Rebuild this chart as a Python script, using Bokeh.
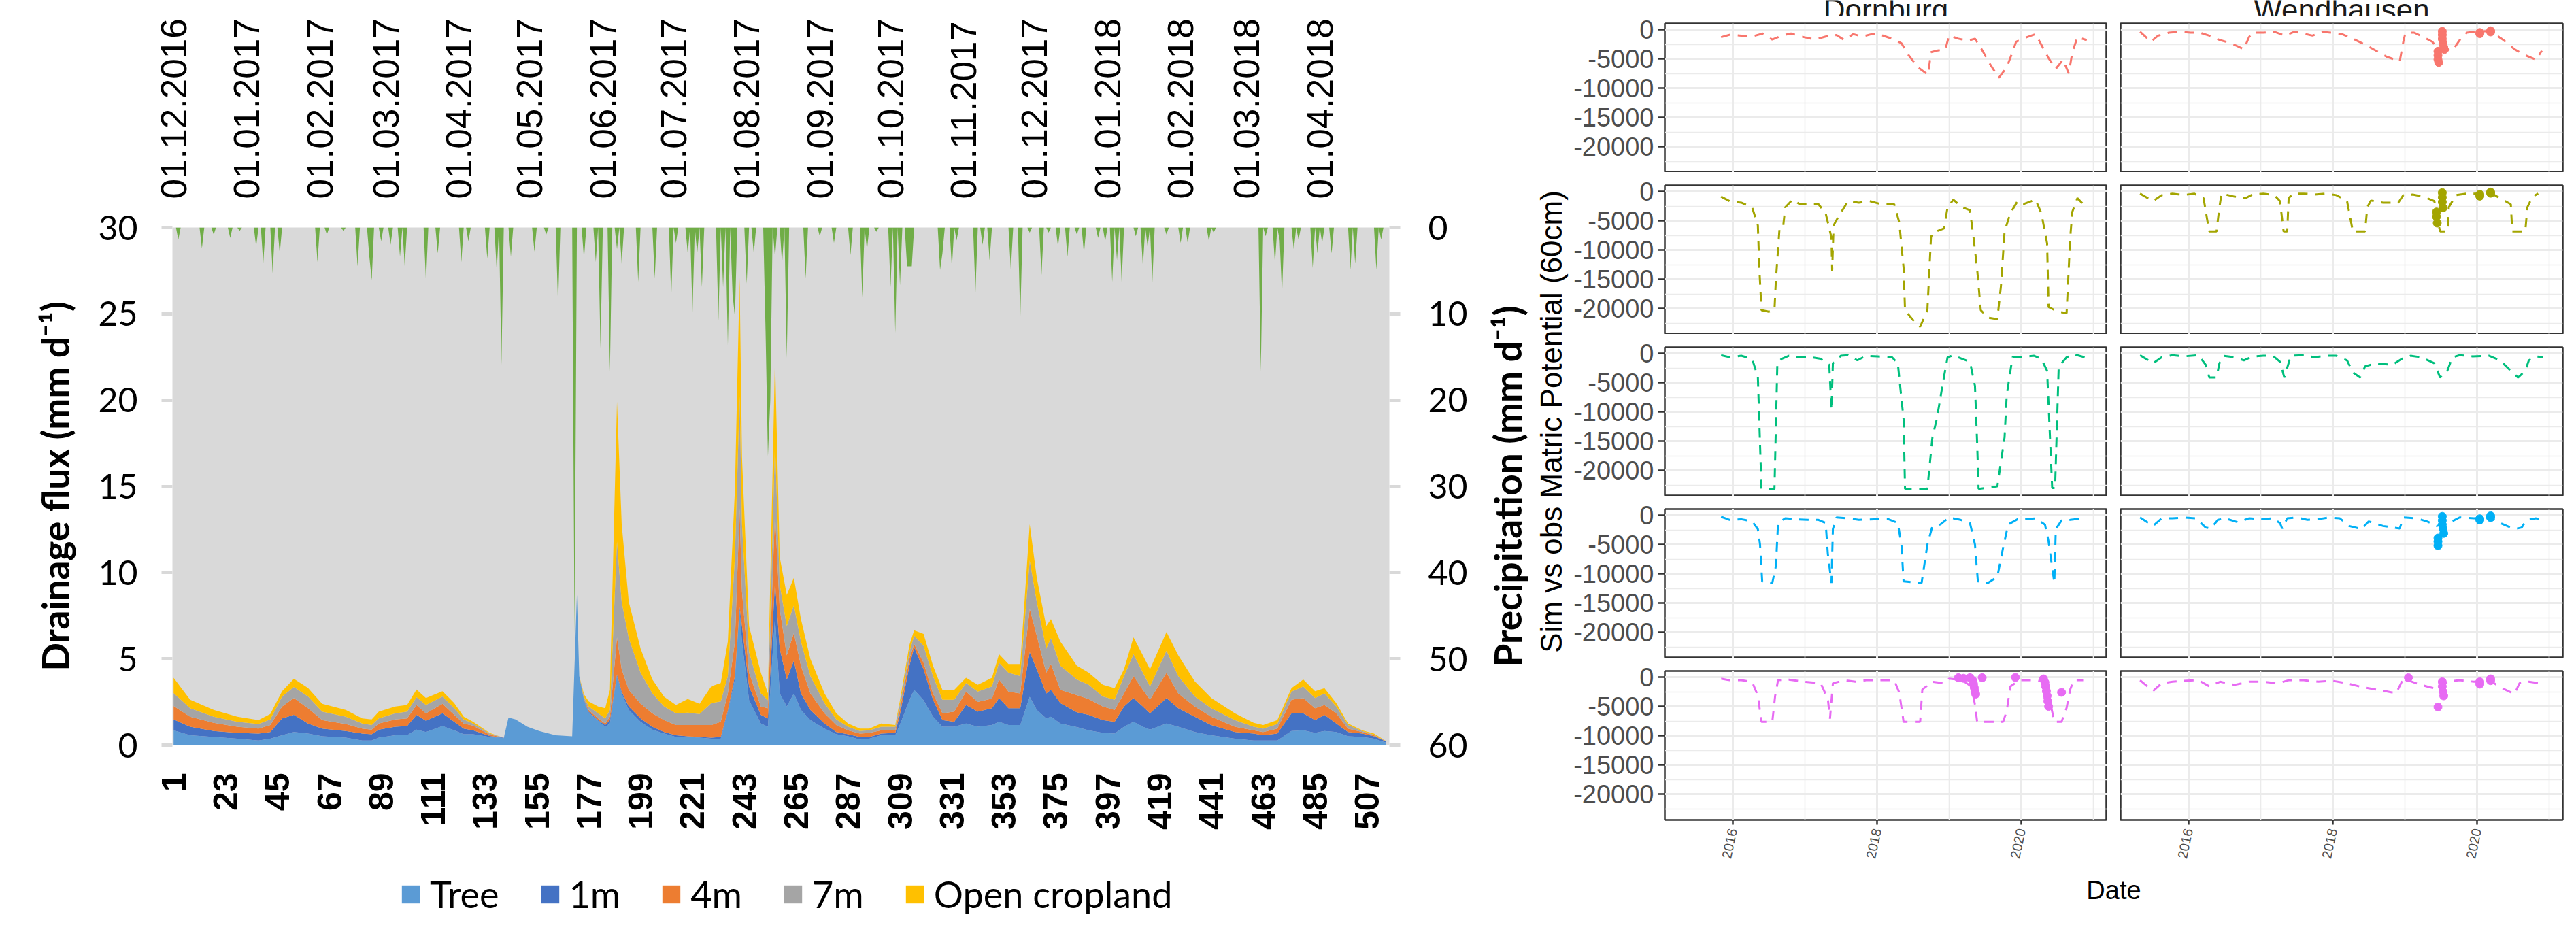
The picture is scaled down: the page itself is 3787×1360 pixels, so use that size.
import datetime as dt
import numpy as np
from bokeh.plotting import figure
from bokeh.models import (Range1d, LinearAxis, FixedTicker, Legend, LegendItem,
                          Label, ColumnDataSource)
from bokeh.layouts import row, column
from bokeh.embed import file_html
from bokeh.resources import INLINE

# ------------------------------------------------------------------
# Left chart: drainage flux (stacked areas) and precipitation (inverted)
# ------------------------------------------------------------------
N_DAYS = 516
MONTH_LABELS = ["01.12.2016", "01.01.2017", "01.02.2017", "01.03.2017", "01.04.2017",
                "01.05.2017", "01.06.2017", "01.07.2017", "01.08.2017", "01.09.2017",
                "01.10.2017", "01.11.2017", "01.12.2017", "01.01.2018", "01.02.2018",
                "01.03.2018", "01.04.2018"]
DAY_TICKS = [1, 23, 45, 67, 89, 111, 133, 155, 177, 199, 221, 243, 265, 287, 309,
             331, 353, 375, 397, 419, 441, 463, 485, 507]
SERIES_NAMES = ["Tree", "1m", "4m", "7m", "Open cropland"]
SERIES_COLORS = ["#5B9BD5", "#4472C4", "#ED7D31", "#A5A5A5", "#FFC000"]

DAYS = [1, 8, 18, 28, 37, 42, 47, 52, 58, 64,
        74, 81, 85, 88, 95, 100, 104, 108, 115, 120,
        124, 128, 135, 140, 141, 143, 146, 151, 156, 163,
        170, 172, 173, 175, 177, 181, 184, 186, 189, 191,
        194, 199, 204, 209, 214, 219, 224, 229, 233, 236,
        239, 241, 242, 245, 250, 253, 256, 258, 261, 264,
        267, 271, 277, 282, 287, 292, 296, 301, 307, 309,
        313, 315, 319, 323, 327, 332, 337, 342, 348, 351,
        355, 360, 364, 367, 371, 373, 377, 384, 389, 395,
        400, 404, 408, 412, 415, 422, 427, 434, 441, 451,
        459, 463, 469, 475, 480, 485, 489, 494, 499, 505, 510, 515]
TREE = [.86, .57, .47, .37, .27, .37, .57, .76, .67, .51,
        .43, .27, .27, .43, .57, .57, .90, .76, 1.10, .86,
        .63, .63, .47, .42, .40, 1.60, 1.49, 1.06, .82, .57,
        .51, 8.70, 4.00, 2.60, 1.88, 1.41, 1.06, 1.25, 4.00, 3.00,
        2.04, 1.35, .90, .67, .47, .47, .43, .37, .37, 1.90,
        3.80, 7.90, 6.00, 2.60, 1.25, 1.06, 7.40, 3.00, 2.24, 3.00,
        2.04, 1.45, .96, .63, .51, .33, .37, .57, .57, 1.20,
        2.60, 3.20, 2.60, 1.65, 1.06, 1.06, 1.25, 1.06, 1.16, 1.35,
        1.16, 1.16, 2.80, 2.04, 1.55, 1.65, 1.25, 1.04, .86, .71,
        .67, 1.06, 1.35, 1.06, .90, 1.25, 1.06, .76, .57, .37,
        .27, .27, .27, .82, .86, .71, .82, .76, .51, .47, .37, .15]
M1 = [.63, .49, .35, .34, .40, .39, .98, .99, .58, .45,
      .39, .40, .36, .47, .49, .53, .85, .65, .74, .49,
      .33, .23, .06, .03, .02, 0, 0, 0, 0, 0,
      0, 0, 0, .05, .06, .04, .10, .20, .10, .10,
      .20, .20, .16, .09, .10, .04, .04, .06, .10, .10,
      .20, .10, .90, .80, .50, .49, 2.10, 2.60, 1.56, 1.90,
      .96, .59, .29, .13, .12, .14, .10, .10, .14, .60,
      2.00, 2.47, 1.80, .98, .39, .29, 1.08, .88, .98, 1.38,
      .98, .98, 2.60, 2.36, 1.45, 1.55, 1.18, .86, .89, .74,
      .68, 1.18, 1.38, 1.18, .94, 1.48, 1.08, .89, .59, .39,
      .40, .30, .40, 1.02, .98, .74, .93, .49, .25, .20, .14, .07]
M4 = [.78, .59, .47, .35, .29, .40, .69, .98, .89, .49,
      .40, .29, .27, .35, .43, .45, .58, .43, .55, .40,
      .29, .26, .08, .01, 0, 0, 0, 0, 0, 0,
      0, 0, 0, .05, .10, .10, .09, .20, 2.15, 1.30,
      .96, .85, .78, .69, .59, .65, .69, .73, .88, 1.00,
      2.00, 5.70, 2.00, .80, .49, .59, 4.00, 2.30, 1.40, 1.60,
      1.60, .96, .59, .40, .23, .20, .24, .19, .15, .30,
      .40, .19, .38, .37, .39, .59, .77, .56, .56, 1.07,
      .96, .86, 2.50, 1.95, 1.20, 1.50, .77, 1.00, .92, .79,
      .69, .76, 1.27, .96, .79, 1.47, .86, .59, .49, .30,
      .19, .19, .29, .79, .89, .69, .58, .59, .20, .09, .06, .01]
M7 = [.75, .49, .36, .29, .26, .33, .58, .64, .68, .49,
      .43, .29, .26, .30, .35, .39, .45, .49, .43, .39,
      .24, .13, .06, .01, 0, 0, 0, 0, 0, 0,
      0, 0, 0, .10, .20, .29, .30, .39, 5.55, 3.90,
      3.00, 1.80, 1.16, .79, .68, .72, .64, 1.27, 1.18, 1.00,
      4.90, 6.50, 3.90, 1.20, .76, .46, 4.00, 1.40, 1.70, 1.60,
      1.40, 1.00, .59, .33, .20, .15, .15, .20, .20, .30,
      .40, .49, .98, 1.00, .79, .69, .50, .60, .70, .98,
      1.10, 1.00, 2.80, 1.95, 1.40, 1.50, 1.40, .90, .83, .58,
      .59, 1.00, 1.27, 1.00, .77, 1.27, 1.00, .58, .49, .39,
      .20, .20, .26, .47, .67, .59, .67, .40, .20, .06, .03, .01]
OPEN = [.88, .49, .39, .30, .23, .31, .30, .47, .49, .45,
        .39, .30, .33, .39, .40, .39, .44, .40, .30, .29,
        .16, .10, .04, 0, 0, 0, 0, 0, 0, 0,
        0, 0, 0, .15, .29, .40, .59, 1.16, 8.10, 4.50,
        2.10, 1.40, .80, .56, .49, .79, .59, .98, 1.07, 2.00,
        3.90, 6.90, 3.90, 1.50, 1.20, .40, 5.00, 1.60, 1.80, 1.60,
        1.30, 1.00, .57, .35, .19, .14, .10, .19, .10, .20,
        .40, .30, .69, .60, .57, .57, .30, .40, .50, .49,
        .50, .70, 2.10, 1.40, 1.30, 1.10, 1.40, .80, .70, .68,
        .67, .40, .98, 1.00, 1.00, 1.08, 1.20, .88, .59, .39,
        .23, .20, .23, .20, .40, .39, .30, .19, .09, .04, .07, .01]

RAIN_DAY = [3, 13, 18, 25, 29, 36, 39, 43, 46, 62,
            66, 73, 79, 84, 85, 89, 93, 97, 99, 108,
            113, 123, 126, 134, 138, 140, 144, 154, 159, 164,
            171, 175, 180, 182, 186, 189, 191, 198, 205, 212,
            214, 219, 221, 223, 225, 232, 234, 236, 238, 239,
            244, 247, 252, 253, 254, 256, 259, 261, 269, 275,
            281, 288, 293, 295, 299, 305, 307, 309, 312, 313,
            314, 326, 327, 331, 333, 341, 344, 347, 356, 360,
            364, 369, 372, 376, 380, 384, 387, 393, 396, 399,
            401, 403, 409, 412, 414, 416, 422, 428, 431, 440,
            442, 462, 464, 468, 470, 471, 476, 478, 484, 486,
            488, 492, 500, 502, 511, 513]
RAIN_MM = [1.4, 2.4, 0.8, 1.2, 0.4, 2.2, 4.2, 5.3, 3.0, 4.0,
           0.8, 0.4, 4.5, 3.4, 6.1, 1.6, 2.0, 3.4, 4.5, 6.3,
           3.0, 4.0, 1.6, 3.6, 5.0, 15.9, 3.4, 2.8, 0.8, 8.9,
           47.0, 3.6, 4.0, 14.0, 16.7, 2.5, 4.2, 6.3, 5.9, 8.1,
           1.8, 3.0, 10.0, 3.0, 6.9, 10.8, 6.9, 13.6, 7.7, 10.4,
           6.5, 3.0, 12.0, 26.5, 20.0, 3.5, 4.2, 15.1, 5.9, 1.0,
           1.8, 3.2, 8.1, 2.6, 0.5, 6.9, 12.2, 6.7, 4.5, 4.5,
           4.5, 4.9, 3.0, 4.7, 1.5, 7.5, 2.0, 3.8, 4.9, 10.6,
           0.6, 5.5, 0.6, 2.2, 3.4, 0.8, 3.0, 1.2, 1.6, 6.3,
           3.8, 6.3, 1.0, 4.5, 2.2, 6.3, 0.8, 1.8, 1.8, 1.6,
           0.6, 16.7, 1.0, 4.2, 1.5, 7.7, 2.6, 1.4, 4.7, 3.0,
           1.8, 3.0, 4.9, 4.2, 4.9, 1.4]

# ------------------------------------------------------------------
# Right chart: simulated (dashed) vs observed (points) matric potential
# ------------------------------------------------------------------
ROW_COLORS = ["#F8766D", "#A3A500", "#00BF7D", "#00B0F6", "#E76BF3"]
SITES = ["Dornburg", "Wendhausen"]
Y_TICKS = [-20000, -15000, -10000, -5000, 0]
Y_MINOR = [-22500, -17500, -12500, -7500, -2500]
X_TICKS = [2016, 2018, 2020]
X_MINOR = [2017, 2019, 2021]

DOR1_YR = [2015.84, 2015.96, 2016.12, 2016.27, 2016.42, 2016.55, 2016.68, 2016.81, 2016.99, 2017.14,
           2017.29, 2017.44, 2017.55, 2017.67, 2017.80, 2017.93, 2018.06, 2018.21, 2018.34, 2018.44,
           2018.57, 2018.71, 2018.75, 2018.83, 2018.95, 2019.00, 2019.13, 2019.26, 2019.36, 2019.44,
           2019.57, 2019.69, 2019.80, 2019.88, 2019.93, 2020.08, 2020.20, 2020.28, 2020.38, 2020.48,
           2020.58, 2020.66, 2020.71, 2020.78, 2020.91]
DOR1_SIM = [-1290, -880, -1030, -1180, -670, -1700, -1030, -670, -1290, -1700,
            -1180, -930, -1800, -770, -1180, -770, -930, -1550, -2320, -4380,
            -6440, -7730, -3860, -3600, -3350, -1030, -1550, -1900, -1550, -3090,
            -5920, -8240, -6440, -3860, -2060, -1290, -770, -2580, -4890, -6700,
            -5150, -7470, -3860, -1290, -1800]

DOR2_YR = [2015.84, 2015.96, 2016.12, 2016.27, 2016.35, 2016.37, 2016.40, 2016.50, 2016.58, 2016.60,
           2016.65, 2016.70, 2016.73, 2016.83, 2016.93, 2017.06, 2017.19, 2017.29, 2017.37, 2017.38,
           2017.40, 2017.47, 2017.60, 2017.75, 2017.90, 2018.06, 2018.24, 2018.31, 2018.37, 2018.39,
           2018.49, 2018.60, 2018.70, 2018.75, 2018.77, 2018.93, 2018.98, 2019.06, 2019.18, 2019.29,
           2019.34, 2019.39, 2019.44, 2019.54, 2019.67, 2019.72, 2019.77, 2019.85, 2019.95, 2020.03,
           2020.20, 2020.28, 2020.36, 2020.38, 2020.51, 2020.63, 2020.68, 2020.71, 2020.78, 2020.86]
DOR2_SIM = [-880, -1650, -1910, -2690, -5790, -13030, -20270, -20530, -20270, -15100,
            -6310, -6050, -2690, -1400, -2170, -2170, -2170, -3720, -7860, -13550,
            -5790, -4240, -1650, -1910, -1650, -2170, -2170, -5270, -13030, -20270,
            -21820, -23110, -20270, -7860, -7080, -6310, -2690, -1400, -2690, -3210,
            -7860, -13290, -20270, -21560, -21820, -16130, -6820, -3720, -1650, -2170,
            -1400, -3720, -8890, -19750, -20530, -20780, -7860, -3460, -1140, -2170]

DOR3_YR = [2015.84, 2015.96, 2016.12, 2016.27, 2016.35, 2016.40, 2016.58, 2016.62, 2016.68, 2016.78,
           2016.93, 2017.09, 2017.22, 2017.34, 2017.37, 2017.39, 2017.50, 2017.60, 2017.73, 2017.85,
           2018.01, 2018.21, 2018.29, 2018.37, 2018.39, 2018.70, 2018.77, 2018.83, 2018.93, 2018.98,
           2019.06, 2019.18, 2019.29, 2019.36, 2019.39, 2019.41, 2019.67, 2019.77, 2019.80, 2019.88,
           2020.03, 2020.18, 2020.28, 2020.36, 2020.43, 2020.47, 2020.52, 2020.56, 2020.63, 2020.73,
           2020.88]
DOR3_SIM = [-310, -670, -410, -930, -4020, -23150, -23150, -1700, -930, -410,
            -670, -670, -930, -1960, -9700, -1700, -410, -310, -1190, -410,
            -520, -670, -1700, -11250, -23150, -23150, -14330, -11250, -4020, -670,
            -310, -930, -1440, -5570, -15380, -23150, -22730, -14330, -7120, -670,
            -570, -410, -930, -2990, -23000, -23000, -2500, -1700, -670, -150,
            -670]

DOR4_YR = [2015.84, 2015.96, 2016.12, 2016.27, 2016.35, 2016.38, 2016.41, 2016.55, 2016.60, 2016.63,
           2016.73, 2016.88, 2017.04, 2017.19, 2017.29, 2017.32, 2017.37, 2017.39, 2017.44, 2017.60,
           2017.75, 2017.96, 2018.16, 2018.29, 2018.34, 2018.37, 2018.62, 2018.70, 2018.77, 2018.88,
           2019.00, 2019.16, 2019.29, 2019.36, 2019.40, 2019.54, 2019.67, 2019.75, 2019.82, 2019.95,
           2020.03, 2020.20, 2020.33, 2020.38, 2020.46, 2020.48, 2020.56, 2020.68, 2020.83]
DOR4_SIM = [-260, -790, -680, -1050, -2370, -5000, -11310, -11570, -8680, -1320,
            -530, -680, -790, -790, -1320, -6580, -11570, -2370, -370, -530,
            -790, -680, -680, -1320, -5000, -11310, -11570, -5000, -1840, -1580,
            -370, -790, -1320, -5000, -11310, -11570, -10520, -5520, -1580, -680,
            -680, -530, -1580, -4470, -11570, -2370, -890, -790, -530]

DOR5_YR = [2015.84, 2015.96, 2016.12, 2016.27, 2016.35, 2016.40, 2016.55, 2016.59, 2016.63, 2016.78,
           2016.99, 2017.22, 2017.32, 2017.35, 2017.39, 2017.55, 2017.70, 2017.85, 2018.06, 2018.24,
           2018.31, 2018.37, 2018.60, 2018.63, 2018.77, 2018.93, 2019.00, 2019.18, 2019.31, 2019.36,
           2019.39, 2019.75, 2019.80, 2019.85, 2019.98, 2020.23, 2020.36, 2020.41, 2020.46, 2020.56,
           2020.63, 2020.68, 2020.73, 2020.86]
DOR5_SIM = [-260, -530, -530, -790, -3160, -7630, -7630, -3160, -530, -420,
            -790, -1050, -3680, -7100, -1050, -530, -790, -530, -530, -530,
            -2630, -7630, -7630, -2100, -790, -1050, -260, -530, -1580, -4730,
            -7630, -7630, -5790, -1580, -530, -530, -1050, -4730, -7630, -7630,
            -5260, -2100, -530, -530]
DOR5_OBS_YR = [2019.13, 2019.20, 2019.29, 2019.33, 2019.34, 2019.35, 2019.36, 2019.37, 2019.46,
               2019.92, 2020.31, 2020.33, 2020.34, 2020.35, 2020.36, 2020.37, 2020.38, 2020.56]
DOR5_OBS = [-100, -200, -100, -600, -1200, -1800, -2400, -2900, -100,
            -50, -300, -900, -1600, -2400, -3200, -4100, -5000, -2600]

WEN1_YR = [2015.33, 2015.48, 2015.58, 2015.73, 2015.88, 2016.03, 2016.16, 2016.29, 2016.44, 2016.59,
           2016.77, 2016.84, 2016.89, 2017.04, 2017.19, 2017.34, 2017.47, 2017.60, 2017.72, 2017.85,
           2017.97, 2018.13, 2018.28, 2018.45, 2018.60, 2018.75, 2018.93, 2018.98, 2019.01, 2019.13,
           2019.26, 2019.38, 2019.43, 2019.56, 2019.66, 2019.76, 2019.86, 2019.96, 2020.12, 2020.22,
           2020.37, 2020.52, 2020.67, 2020.82, 2020.90]
WEN1_SIM = [-360, -2060, -1030, -520, -360, -520, -520, -1030, -1800, -2320,
            -3350, -1290, -520, -520, -360, -1030, -360, -670, -1030, -360,
            -520, -770, -1550, -2580, -3600, -4640, -5410, -2060, -520, -520,
            -1290, -2060, -2830, -3350, -3600, -1800, -520, -360, -260, -520,
            -1800, -3350, -4380, -5150, -3600]
WEN1_OBS_YR = [2019.46, 2019.46, 2019.46, 2019.47, 2019.52, 2019.52, 2019.52, 2019.53, 2019.54,
               2019.55, 2020.04, 2020.04, 2020.19, 2020.19]
WEN1_OBS = [-3700, -4400, -5100, -5600, -300, -900, -1600, -2300, -3000,
            -3400, -500, -700, -200, -400]

WEN2_YR = [2015.33, 2015.51, 2015.63, 2015.78, 2015.93, 2016.08, 2016.21, 2016.26, 2016.29, 2016.39,
           2016.43, 2016.46, 2016.64, 2016.79, 2016.89, 2017.04, 2017.19, 2017.27, 2017.32, 2017.37,
           2017.39, 2017.45, 2017.60, 2017.75, 2017.90, 2018.05, 2018.20, 2018.28, 2018.45, 2018.48,
           2018.53, 2018.70, 2018.91, 2018.98, 2019.11, 2019.26, 2019.41, 2019.46, 2019.49, 2019.60,
           2019.61, 2019.71, 2019.86, 2020.01, 2020.17, 2020.32, 2020.47, 2020.49, 2020.67, 2020.70,
           2020.77, 2020.85]
WEN2_SIM = [-360, -1650, -620, -360, -620, -360, -1140, -4760, -6820, -6820,
            -2690, -360, -880, -1140, -520, -360, -620, -1650, -6820, -6820,
            -1140, -360, -360, -520, -360, -620, -1650, -6820, -6820, -2690,
            -1550, -1910, -1910, -620, -520, -880, -1650, -5270, -6820, -6820,
            -2690, -620, -360, -360, -100, -1140, -2170, -6820, -6820, -2690,
            -880, -360]
WEN2_OBS_YR = [2019.44, 2019.44, 2019.45, 2019.52, 2019.52, 2019.52, 2019.53, 2020.04, 2020.04,
               2020.19, 2020.19]
WEN2_OBS = [-3500, -4300, -5400, -200, -1000, -1800, -2800, -500, -800, -100, -300]

WEN3_YR = [2015.33, 2015.51, 2015.63, 2015.78, 2015.93, 2016.14, 2016.24, 2016.29, 2016.39, 2016.43,
           2016.49, 2016.64, 2016.77, 2016.89, 2017.04, 2017.17, 2017.27, 2017.33, 2017.37, 2017.42,
           2017.60, 2017.75, 2017.90, 2018.05, 2018.20, 2018.28, 2018.38, 2018.45, 2018.60, 2018.83,
           2018.96, 2019.08, 2019.23, 2019.41, 2019.49, 2019.59, 2019.66, 2019.76, 2019.94, 2020.17,
           2020.32, 2020.47, 2020.57, 2020.67, 2020.72, 2020.82, 2020.92]
WEN3_SIM = [-310, -1700, -670, -310, -520, -310, -1960, -4130, -4130, -1700,
            -410, -670, -1190, -520, -410, -410, -1440, -4130, -2480, -410,
            -310, -670, -410, -410, -1190, -3250, -4130, -2220, -1700, -1960,
            -930, -410, -670, -1700, -4130, -2990, -670, -310, -520, -410,
            -1190, -2990, -4130, -2990, -1190, -520, -670]

WEN4_YR = [2015.33, 2015.51, 2015.63, 2015.78, 2015.93, 2016.11, 2016.24, 2016.31, 2016.41, 2016.51,
           2016.69, 2016.84, 2017.02, 2017.17, 2017.27, 2017.30, 2017.37, 2017.50, 2017.65, 2017.80,
           2017.95, 2018.10, 2018.23, 2018.40, 2018.50, 2018.70, 2018.93, 2018.98, 2019.16, 2019.31,
           2019.44, 2019.61, 2019.76, 2019.96, 2020.17, 2020.32, 2020.52, 2020.62, 2020.69, 2020.82,
           2020.92]
WEN4_SIM = [-370, -1840, -530, -530, -370, -530, -2100, -2260, -790, -530,
            -1210, -530, -680, -530, -1320, -2260, -530, -370, -790, -680,
            -370, -530, -1840, -2370, -1050, -1840, -2260, -370, -530, -1050,
            -1840, -1320, -370, -530, -370, -1320, -2370, -2100, -790, -530,
            -890]
WEN4_OBS_YR = [2019.46, 2019.46, 2019.46, 2019.52, 2019.52, 2019.52, 2019.53, 2019.54, 2020.04,
               2020.04, 2020.19, 2020.19]
WEN4_OBS = [-3900, -4500, -5200, -200, -900, -1600, -2300, -3100, -600, -800, -100, -400]

WEN5_YR = [2015.33, 2015.51, 2015.63, 2015.78, 2015.93, 2016.14, 2016.29, 2016.44, 2016.64, 2016.84,
           2017.04, 2017.24, 2017.39, 2017.60, 2017.80, 2018.00, 2018.20, 2018.40, 2018.65, 2018.88,
           2018.98, 2019.16, 2019.33, 2019.49, 2019.59, 2019.76, 2019.96, 2020.17, 2020.34, 2020.52,
           2020.59, 2020.72, 2020.87]
WEN5_SIM = [-530, -2370, -1050, -790, -630, -530, -1580, -790, -1320, -790,
            -790, -1050, -530, -530, -790, -630, -1050, -1680, -2210, -2740,
            -260, -1050, -1680, -2100, -790, -530, -790, -530, -1840, -2890,
            -1050, -790, -1050]
WEN5_OBS_YR = [2019.05, 2019.46, 2019.52, 2019.52, 2019.53, 2019.54, 2020.04, 2020.04, 2020.19, 2020.19]
WEN5_OBS = [-100, -5100, -800, -1600, -2500, -3200, -800, -1200, -300, -600]

PANELS = [
    [(DOR1_YR, DOR1_SIM, [], []), (WEN1_YR, WEN1_SIM, WEN1_OBS_YR, WEN1_OBS)],
    [(DOR2_YR, DOR2_SIM, [], []), (WEN2_YR, WEN2_SIM, WEN2_OBS_YR, WEN2_OBS)],
    [(DOR3_YR, DOR3_SIM, [], []), (WEN3_YR, WEN3_SIM, [], [])],
    [(DOR4_YR, DOR4_SIM, [], []), (WEN4_YR, WEN4_SIM, WEN4_OBS_YR, WEN4_OBS)],
    [(DOR5_YR, DOR5_SIM, DOR5_OBS_YR, DOR5_OBS), (WEN5_YR, WEN5_SIM, WEN5_OBS_YR, WEN5_OBS)],
]

# ------------------------------------------------------------------
# helpers
# ------------------------------------------------------------------
def blank_fig(w, h, **borders):
    f = figure(width=w, height=h, x_range=Range1d(0, 1), y_range=Range1d(0, 1),
               x_axis_type=None, y_axis_type=None, output_backend="svg",
               toolbar_location=None, min_border=0, **borders)
    f.outline_line_color = None
    f.background_fill_color = "white"
    f.border_fill_color = "white"
    return f


def label_fig(w, h, text, top, bottom, left, standoff, font, style, size):
    """A thin figure whose only visible part is the (rotated) title of its left axis."""
    f = figure(width=w, height=h, x_range=Range1d(0, 1), y_range=Range1d(0, 1),
               x_axis_type=None, output_backend="svg", toolbar_location=None,
               min_border_left=left, min_border_right=0, min_border_top=top,
               min_border_bottom=bottom)
    f.outline_line_color = None
    f.background_fill_color = "white"
    f.border_fill_color = "white"
    f.grid.visible = False
    ax = f.yaxis[0]
    ax.ticker = FixedTicker(ticks=[])
    ax.major_tick_out = 0
    ax.major_tick_in = 0
    ax.major_tick_line_color = None
    ax.minor_tick_line_color = None
    ax.axis_line_color = None
    ax.axis_label = text
    ax.axis_label_standoff = standoff
    ax.axis_label_text_font = font
    ax.axis_label_text_font_style = style
    ax.axis_label_text_font_size = size
    ax.axis_label_text_color = "black"
    return f

# ------------------------------------------------------------------
# Build left chart
# ------------------------------------------------------------------
start = dt.date(2016, 12, 1)
month_idx = []
for s in MONTH_LABELS:
    d, m, y = (int(v) for v in s.split("."))
    month_idx.append((dt.date(y, m, d) - start).days + 1)

src = ColumnDataSource(data=dict(day=DAYS, tree=TREE, m1=M1, m4=M4, m7=M7, openc=OPEN))
rain = np.zeros(N_DAYS)
for d, mm in zip(RAIN_DAY, RAIN_MM):
    rain[d - 1] = mm
rain_src = ColumnDataSource(data=dict(day=np.arange(1, N_DAYS + 1), mm=rain))

L = figure(width=2172, height=1226, x_range=Range1d(0.5, N_DAYS + 0.5), y_range=Range1d(0, 30),
           output_backend="svg", toolbar_location=None,
           min_border_left=253, min_border_right=130, min_border_top=334, min_border_bottom=131)
L.background_fill_color = "#D9D9D9"
L.border_fill_color = "white"
L.outline_line_color = None
L.grid.visible = False
L.extra_y_ranges = {"precip": Range1d(60, 0)}

L.varea_stack(stackers=["tree", "m1", "m4", "m7", "openc"], x="day",
              color=SERIES_COLORS, source=src)
L.varea(x="day", y1=0, y2="mm", source=rain_src, fill_color="#70AD47",
        y_range_name="precip")

xb = L.xaxis[0]
xb.ticker = FixedTicker(ticks=DAY_TICKS)
xb.major_label_orientation = np.pi / 2
xb.major_label_text_font = "Liberation Sans"
xb.major_label_text_font_style = "bold"
xb.major_label_text_font_size = "50px"
xb.major_label_text_color = "black"
xb.major_label_standoff = 41
xb.major_tick_out = 0
xb.major_tick_in = 0
xb.major_tick_line_color = None
xb.minor_tick_line_color = None
xb.axis_line_color = None

yl = L.yaxis[0]
yl.ticker = FixedTicker(ticks=[0, 5, 10, 15, 20, 25, 30])
yl.major_tick_out = 16
yl.major_tick_in = 0
yl.major_tick_line_color = "#D9D9D9"
yl.major_tick_line_width = 5
yl.minor_tick_line_color = None
yl.axis_line_color = None
yl.major_label_text_font = "Lato"
yl.major_label_text_font_size = "50px"
yl.major_label_text_color = "black"
yl.major_label_standoff = 35
yl.axis_label = "Drainage flux (mm d\u207b\u00b9)"
yl.axis_label_standoff = 27
yl.axis_label_text_font = "Lato"
yl.axis_label_text_font_style = "bold"
yl.axis_label_text_font_size = "55px"
yl.axis_label_text_color = "black"

yr_ax = LinearAxis(y_range_name="precip", ticker=FixedTicker(ticks=[0, 10, 20, 30, 40, 50, 60]))
yr_ax.major_tick_out = 16
yr_ax.major_tick_in = 0
yr_ax.major_tick_line_color = "#D9D9D9"
yr_ax.major_tick_line_width = 5
yr_ax.minor_tick_line_color = None
yr_ax.axis_line_color = None
yr_ax.major_label_text_font = "Lato"
yr_ax.major_label_text_font_size = "50px"
yr_ax.major_label_text_color = "black"
yr_ax.major_label_standoff = 41
L.add_layout(yr_ax, "right")

top_ax = LinearAxis(ticker=FixedTicker(ticks=month_idx),
                    major_label_overrides={i: s for i, s in zip(month_idx, MONTH_LABELS)})
top_ax.major_label_orientation = np.pi / 2
top_ax.major_label_text_font = "Liberation Sans"
top_ax.major_label_text_font_size = "53px"
top_ax.major_label_text_color = "black"
top_ax.major_label_standoff = 42
top_ax.major_tick_out = 0
top_ax.major_tick_in = 0
top_ax.major_tick_line_color = None
top_ax.minor_tick_line_color = None
top_ax.axis_line_color = None
L.add_layout(top_ax, "above")

# legend strip below the left chart; its key renderers share the chart's data but
# lie outside this strip's own y range, so only the legend itself is visible here
legend_fig = figure(width=2172, height=118, x_range=Range1d(0.5, N_DAYS + 0.5),
                    y_range=Range1d(1000, 1001), x_axis_type=None, y_axis_type=None,
                    output_backend="svg", toolbar_location=None,
                    min_border_left=587, min_border_right=0, min_border_top=56,
                    min_border_bottom=0)
legend_fig.outline_line_color = None
legend_fig.background_fill_color = "white"
legend_fig.border_fill_color = "white"
key_r = legend_fig.varea_stack(stackers=["tree", "m1", "m4", "m7", "openc"], x="day",
                               color=SERIES_COLORS, source=src)
legend = Legend(items=[LegendItem(label=n, renderers=[r]) for n, r in zip(SERIES_NAMES, key_r)],
                orientation="horizontal", location="top_left",
                label_text_font="Lato", label_text_font_size="54px", label_text_color="black",
                label_text_baseline="alphabetic",
                glyph_width=33, glyph_height=33, label_standoff=12, spacing=58,
                padding=0, margin=0, border_line_color=None, background_fill_alpha=0)
legend_fig.add_layout(legend, "center")

left_block = column(L, row(legend_fig), spacing=0)

precip_fig = label_fig(78, 1344, "Precipitation (mm d\u207b\u00b9)", top=334, bottom=249,
                       left=76, standoff=0, font="Lato", style="bold", size="55px")
ylab_fig = label_fig(60, 1344, "Sim vs obs Matric Potential (60cm)", top=34, bottom=139,
                     left=58, standoff=4, font="Liberation Sans", style="normal", size="44px")

# ------------------------------------------------------------------
# Build right facet grid
# ------------------------------------------------------------------
def facet(r, c, xs, ys, pxs, pys, color):
    w = 787 if c == 0 else 674
    top = 10 if r == 0 else 19
    bottom = 70 if r == 4 else 0
    p = figure(width=w, height=219 + top + bottom,
               x_range=Range1d(2015.06, 2021.19), y_range=Range1d(-24400, 1050),
               output_backend="svg", toolbar_location=None,
               min_border_left=137 if c == 0 else 20, min_border_right=0 if c == 0 else 4,
               min_border_top=top, min_border_bottom=bottom)
    p.background_fill_color = "white"
    p.border_fill_color = "white"
    p.outline_line_color = "#333333"
    p.outline_line_width = 2.5
    xt = FixedTicker(ticks=X_TICKS, minor_ticks=X_MINOR)
    yt = FixedTicker(ticks=Y_TICKS, minor_ticks=Y_MINOR)
    p.xaxis.ticker = xt
    p.xgrid.ticker = xt
    p.yaxis.ticker = yt
    p.ygrid.ticker = yt
    for g in (p.xgrid, p.ygrid):
        g.grid_line_color = "#EBEBEB"
        g.grid_line_width = 3
        g.minor_grid_line_color = "#EBEBEB"
        g.minor_grid_line_width = 1.6
    ya = p.yaxis[0]
    ya.major_label_overrides = {v: str(v) for v in Y_TICKS}
    ya.major_tick_out = 10
    ya.major_tick_in = 0
    ya.major_tick_line_color = "#333333"
    ya.major_tick_line_width = 2.5
    ya.minor_tick_line_color = None
    ya.axis_line_color = None
    ya.major_label_text_font = "Liberation Sans"
    ya.major_label_text_font_size = "38px"
    ya.major_label_text_color = "#4D4D4D"
    ya.major_label_standoff = 6
    xa = p.xaxis[0]
    xa.major_tick_out = 7
    xa.major_tick_in = 0
    xa.major_tick_line_color = "#333333"
    xa.major_tick_line_width = 2.5
    xa.minor_tick_line_color = None
    xa.axis_line_color = None
    xa.major_label_text_font = "Liberation Sans"
    xa.major_label_text_font_size = "20px"
    xa.major_label_text_color = "#4D4D4D"
    xa.major_label_orientation = 1.36
    xa.major_label_standoff = 6
    if r != 4:
        xa.visible = False
    if c != 0:
        ya.visible = False
    p.line(xs, ys, line_color=color, line_width=3, line_dash="14 11")
    if len(pxs):
        p.scatter(pxs, pys, size=12, color=color)
    return p


title_fig = blank_fig(1461, 24)
title_fig.add_layout(Label(x=462, y=10, x_units="screen", y_units="screen", text=SITES[0],
                           text_align="center", text_baseline="alphabetic",
                           text_font="Liberation Sans", text_font_size="44px", text_color="#1A1A1A"))
title_fig.add_layout(Label(x=1132, y=10, x_units="screen", y_units="screen", text=SITES[1],
                           text_align="center", text_baseline="alphabetic",
                           text_font="Liberation Sans", text_font_size="44px", text_color="#1A1A1A"))

rows = []
for r in range(5):
    figs = []
    for c in range(2):
        xs, ys, pxs, pys = PANELS[r][c]
        figs.append(facet(r, c, xs, ys, pxs, pys, ROW_COLORS[r]))
    rows.append(row(*figs, spacing=0))

date_fig = blank_fig(1461, 69)
date_fig.add_layout(Label(x=797, y=36, x_units="screen", y_units="screen", text="Date",
                          text_align="center", text_baseline="alphabetic",
                          text_font="Liberation Sans", text_font_size="38px", text_color="black"))

right = column(title_fig, *rows, date_fig, spacing=0)
page = row(left_block, column(precip_fig), column(ylab_fig), right, spacing=0)

with open("out.html", "w") as f:
    f.write(file_html(page, INLINE, "Drainage flux and matric potential"))
